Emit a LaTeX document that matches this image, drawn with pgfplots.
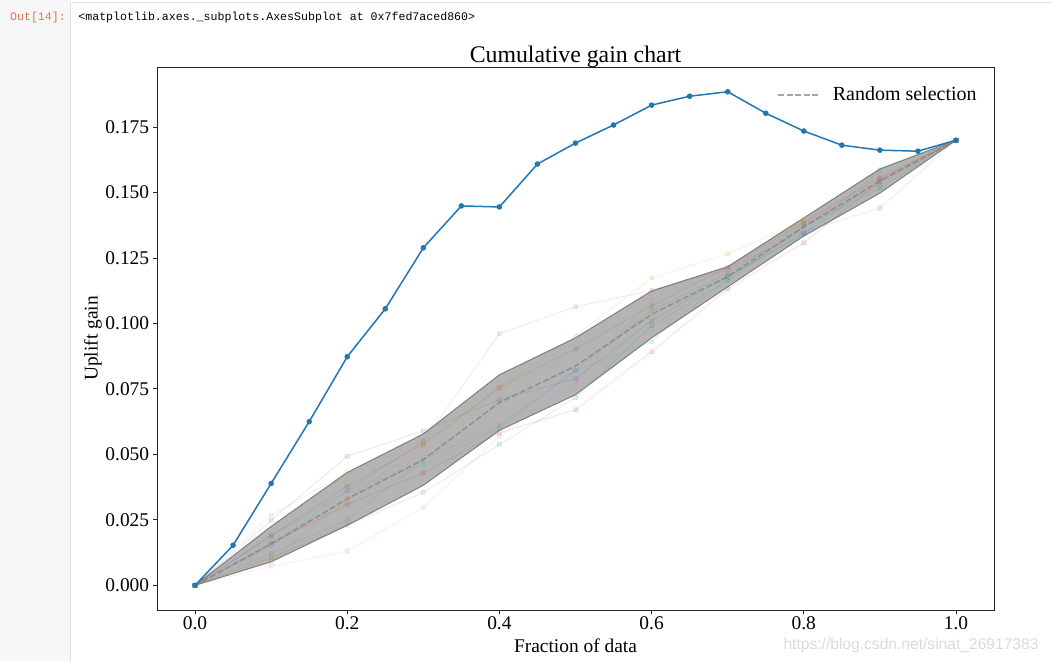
\documentclass[border=0pt]{standalone}
\usepackage{fontspec}
\setmainfont{Liberation Serif}
\newfontfamily\monofont{Liberation Mono}
\newfontfamily\wmfont{Liberation Sans}
\usepackage{pgfplots}
\usepackage{pgfplotstable}
\pgfplotsset{compat=1.18}
\definecolor{tC0}{HTML}{1F77B4}
\definecolor{tC1}{HTML}{FF7F0E}
\definecolor{tC2}{HTML}{2CA02C}
\definecolor{tC3}{HTML}{D62728}
\definecolor{tC4}{HTML}{9467BD}
\definecolor{tC5}{HTML}{8C564B}
\definecolor{tC6}{HTML}{E377C2}
\definecolor{tC7}{HTML}{7F7F7F}
\definecolor{tC8}{HTML}{BCBD22}
\definecolor{tC9}{HTML}{17BECF}
\definecolor{bandgray}{HTML}{808080}
\definecolor{bandfill}{HTML}{B4B4B4}
\definecolor{bandedge}{HTML}{7E7E7E}
\definecolor{promptbg}{HTML}{F7F7F7}
\definecolor{bordercol}{HTML}{E0E0E0}
\definecolor{outcol}{HTML}{D84315}

% band: upper edge forward, lower edge backward
\pgfplotstableread{
x     y
0.0   0.0000
0.1   0.0225
0.2   0.0431
0.3   0.0578
0.4   0.0804
0.5   0.0945
0.6   0.1124
0.7   0.1217
0.8   0.1403
0.9   0.1590
1.0   0.1700
0.9   0.1498
0.8   0.1334
0.7   0.1140
0.6   0.0945
0.5   0.0728
0.4   0.0592
0.3   0.0382
0.2   0.0229
0.1   0.0090
0.0   0.0000
}\bandpoly

\pgfplotstableread{
x     mean
0.0   0.0000
0.1   0.0158
0.2   0.0330
0.3   0.0480
0.4   0.0698
0.5   0.0837
0.6   0.1035
0.7   0.1179
0.8   0.1369
0.9   0.1544
1.0   0.1700
}\band

\pgfplotstableread{
x    c0     c1     c2     c3     c4     c5     c6     c7     c8     c9
0.0  0.0    0.0    0.0    0.0    0.0    0.0    0.0    0.0    0.0    0.0
0.1  .0248  .0092  .0105  .0160  .0188  .0190  .0073  .0122  .0268  .0149
0.2  .0493  .0332  .0229  .0309  .0362  .0379  .0131  .0250  .0431  .0362
0.3  .0591  .0531  .0355  .0430  .0550  .0540  .0297  .0480  .0546  .0461
0.4  .0709  .0755  .0538  .0583  .0961  .0755  .0570  .0610  .0745  .0599
0.5  .0789  .0953  .0717  .0671  .1064  .0903  .0774  .0820  .0873  .0821
0.6  .1010  .1174  .0991  .0892  .1126  .1067  .1090  .1050  .1040  .0931
0.7  .1180  .1266  .1163  .1132  .1207  .1215  .1207  .1190  .1200  .1175
0.8  .1342  .1390  .1370  .1308  .1350  .1385  .1370  .1380  .1399  .1345
0.9  .1550  .1560  .1517  .1541  .1441  .1555  .1570  .1530  .1560  .1586
1.0  .1700  .1700  .1700  .1700  .1700  .1700  .1700  .1700  .1700  .1700
}\rnd

\pgfplotstableread{
x     y
0.00  0.0000
0.05  0.0153
0.10  0.0389
0.15  0.0625
0.20  0.0873
0.25  0.1056
0.30  0.1289
0.35  0.1449
0.40  0.1445
0.45  0.1609
0.50  0.1689
0.55  0.1758
0.60  0.1834
0.65  0.1868
0.70  0.1885
0.75  0.1803
0.80  0.1735
0.85  0.1681
0.90  0.1662
0.95  0.1658
1.00  0.1700
}\model

\pgfplotsset{faint/.style={opacity=0.12, line width=0.55pt, mark=square*, mark size=1.0pt, forget plot}}

\begin{document}
\begin{tikzpicture}
\useasboundingbox (0,0) rectangle (526pt,-330.5pt);
\fill[white] (0,0) rectangle (526pt,-330.5pt);
\begin{scope}[x=0.5pt,y=-0.5pt]
\fill[promptbg] (0,0) rectangle (70.5,661);
\draw[line width=0.5pt, bordercol] (70.75,2.5) -- (70.75,661);
\draw[line width=0.5pt, bordercol] (70.75,2.5) -- (1052,2.5);
\node[font=\monofont\fontsize{5.8}{7}\selectfont, text=outcol!75, anchor=center, inner sep=0] at (38,17) {Out[14]:};
\node[font=\monofont\fontsize{5.8}{7}\selectfont, anchor=west, inner sep=0] at (78,17) {<matplotlib.axes.\_subplots.AxesSubplot at 0x7fed7aced860>};
\end{scope}
\begin{axis}[
  at={(78.5pt,-33.5pt)}, anchor=north west,
  scale only axis, width=418.5pt, height=271.5pt,
  xmin=-0.05, xmax=1.05, ymin=-0.00943, ymax=0.19795,
  xtick={0,0.2,0.4,0.6,0.8,1.0},
  ytick={0,0.025,0.05,0.075,0.1,0.125,0.15,0.175},
  scaled y ticks=false, scaled x ticks=false,
  xticklabel style={/pgf/number format/.cd, fixed, fixed zerofill, precision=1, /tikz/.cd, yshift=2pt},
  yticklabel style={/pgf/number format/.cd, fixed, fixed zerofill, precision=3, /tikz/.cd, xshift=1.5pt},
  /pgf/number format/assume math mode=true,
  tick label style={font=\fontsize{9.7}{11}\selectfont},
  tick align=outside, tick pos=left, major tick length=1.9pt,
  every tick/.style={line width=0.45pt, black!85},
  axis line style={line width=0.45pt, black!85},
  title={Cumulative gain chart},
  every axis title/.style={at={(0.5,1.0185)}, anchor=center, font=\fontsize{11.9}{14}\selectfont},
  xlabel={Fraction of data},
  xlabel style={font=\fontsize{9.7}{11}\selectfont, at={(axis description cs:0.5,-0.0663)}, anchor=center},
  ylabel={Uplift gain},
  ylabel style={font=\fontsize{9.7}{11}\selectfont, at={(axis description cs:-0.0765,0.5)}, anchor=center},
  legend style={draw=none, fill=none, at={(axis description cs:0.9845,0.948)}, anchor=east,
    font=\fontsize{10}{12}\selectfont, inner sep=0pt},
  legend cell align=left,
  legend image code/.code={\draw[#1] (0pt,0pt) -- (20.5pt,0pt); \path (25pt,0pt);},
]
% band
\addplot[fill=bandfill, draw=bandedge, line width=0.5pt, forget plot]
  table[x=x, y=y] {\bandpoly} -- cycle;
% faint random curves
\addplot[tC0, faint] table[x=x, y=c0] {\rnd};
\addplot[tC1, faint] table[x=x, y=c1] {\rnd};
\addplot[tC2, faint] table[x=x, y=c2] {\rnd};
\addplot[tC3, faint] table[x=x, y=c3] {\rnd};
\addplot[tC4, faint] table[x=x, y=c4] {\rnd};
\addplot[tC5, faint] table[x=x, y=c5] {\rnd};
\addplot[tC6, faint] table[x=x, y=c6] {\rnd};
\addplot[tC7, faint] table[x=x, y=c7] {\rnd};
\addplot[tC8, faint] table[x=x, y=c8] {\rnd};
\addplot[tC9, faint] table[x=x, y=c9] {\rnd};
% mean dashed
\addplot[bandgray, opacity=0.7, line width=0.75pt, dash pattern=on 3pt off 1.3pt]
  table[x=x, y=mean] {\band};
\addlegendentry{Random selection}
% model
\addplot[tC0, line width=0.75pt, mark=*, mark size=1.0pt, forget plot]
  table[x=x, y=y] {\model};
\end{axis}
\begin{scope}[x=0.5pt,y=-0.5pt]
\node[font=\wmfont\fontsize{7.8}{9}\selectfont, text=black!14, anchor=center, inner sep=0] at (911,645) {https://blog.csdn.net/sinat\_26917383};
\end{scope}
\end{tikzpicture}
\end{document}
